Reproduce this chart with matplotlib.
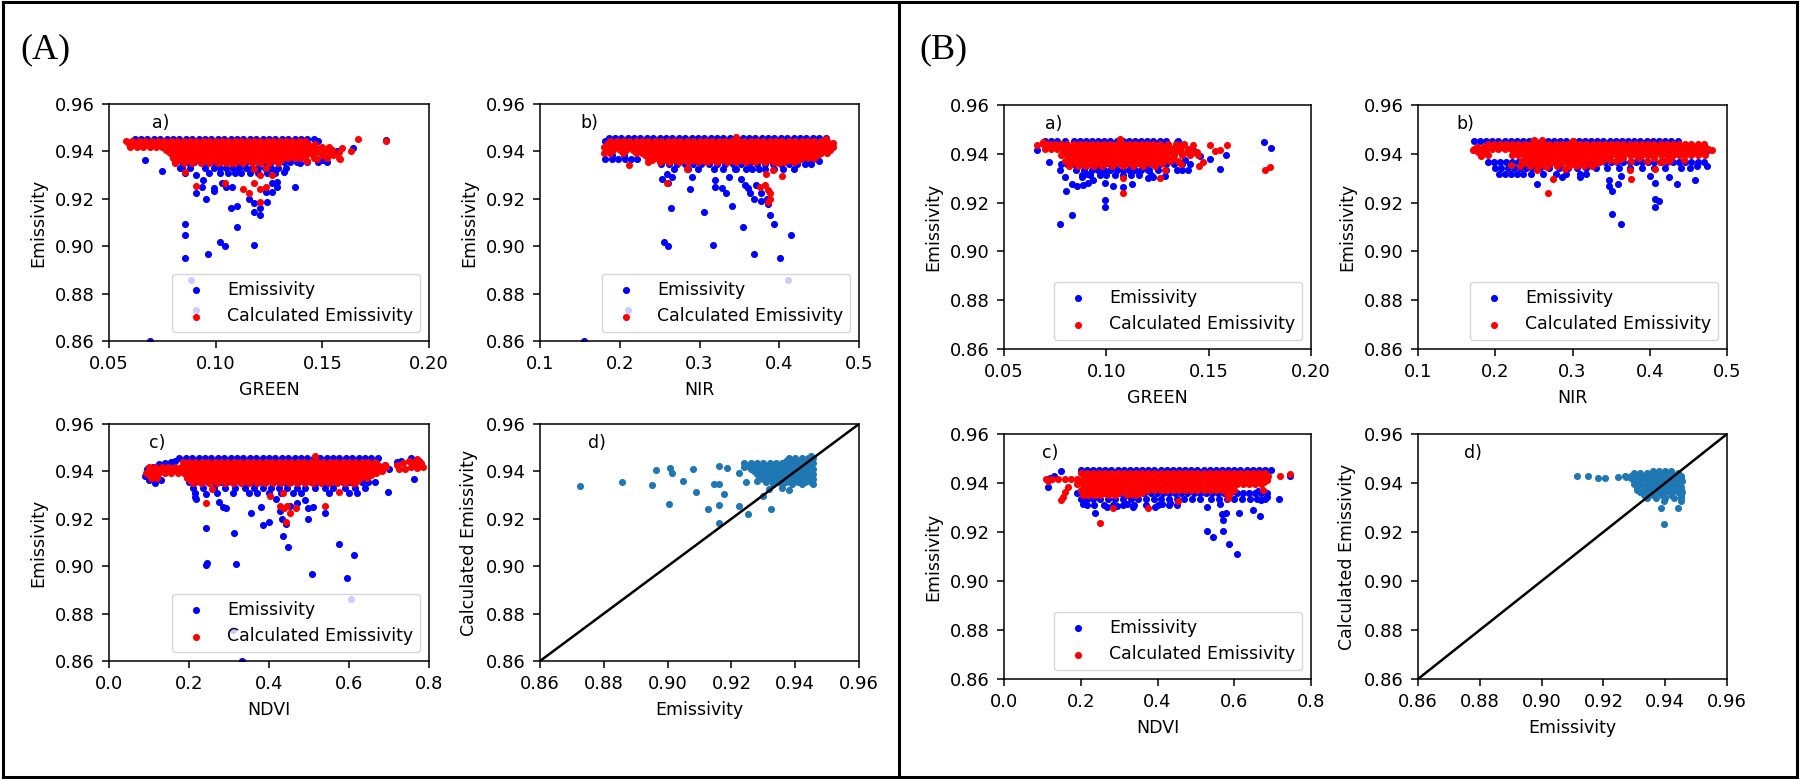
import matplotlib
matplotlib.use("Agg")
import matplotlib.pyplot as plt
from matplotlib.lines import Line2D

W, H = 1800, 779
FS = 12.5          # labels, legend, panel tags
FS_TICK = 13.0
MS = 26            # marker area
EMIS_COLOR = "#0000ff"
CALC_COLOR = "#ff0000"
D_COLOR = "#1f77b4"

Y_TICKS = [0.86, 0.88, 0.90, 0.92, 0.94, 0.96]
GREEN_TICKS = [0.05, 0.10, 0.15, 0.20]
NIR_TICKS = [0.1, 0.2, 0.3, 0.4, 0.5]
NDVI_TICKS = [0.0, 0.2, 0.4, 0.6, 0.8]
D_TICKS = [0.86, 0.88, 0.90, 0.92, 0.94, 0.96]

# ---- (A) a) GREEN ----
# dense clouds are stored as rows: (emissivity, [band values...])
A_GREEN_EMIS_ROWS = [
    (0.9452, [0.062, 0.065, 0.068, 0.071, 0.074, 0.077, 0.080, 0.083, 0.086, 0.089, 0.092, 0.095, 0.098, 0.101,
              0.104, 0.107, 0.110, 0.113, 0.116, 0.119, 0.122, 0.125, 0.128, 0.131, 0.134, 0.137, 0.140, 0.143, 0.146]),
    (0.9355, [0.081, 0.084, 0.087, 0.090, 0.093, 0.096, 0.099, 0.102, 0.105, 0.108, 0.111, 0.114, 0.117, 0.120,
              0.123, 0.126, 0.129, 0.132, 0.135, 0.138, 0.143, 0.148, 0.152]),
    (0.9330, [0.084, 0.088, 0.095, 0.099, 0.102, 0.105, 0.108, 0.111, 0.114, 0.117, 0.120, 0.123, 0.126, 0.129, 0.133]),
    (0.9310, [0.097, 0.102, 0.106, 0.109, 0.112, 0.116, 0.120, 0.124, 0.128]),
]
A_GREEN_EMIS_PTS = [
    (0.150, 0.9405), (0.154, 0.9395), (0.158, 0.9400), (0.1645, 0.9413), (0.1567, 0.9400), (0.1505, 0.9363),
    (0.1395, 0.9350), (0.148, 0.9444), (0.180, 0.9450), (0.0667, 0.9363), (0.0749, 0.9317), (0.0855, 0.9307),
    (0.0832, 0.9328), (0.091, 0.9300), (0.094, 0.9280), (0.0937, 0.9250), (0.091, 0.9225), (0.0957, 0.9200),
    (0.099, 0.9244), (0.099, 0.9234), (0.0855, 0.9093), (0.0855, 0.9049), (0.0855, 0.8952), (0.0963, 0.8965),
    (0.1021, 0.9017), (0.1046, 0.9001), (0.1099, 0.9082), (0.1073, 0.9162), (0.1099, 0.9170), (0.118, 0.9007),
    (0.118, 0.9145), (0.118, 0.9183), (0.121, 0.9131), (0.1154, 0.9201), (0.1239, 0.9187), (0.121, 0.9160),
    (0.1236, 0.9230), (0.1263, 0.9230), (0.1289, 0.9272), (0.1289, 0.9250), (0.1263, 0.9265), (0.137, 0.9248),
    (0.132, 0.9314), (0.1048, 0.9250), (0.1077, 0.9248), (0.103, 0.9265), (0.0886, 0.8859), (0.091, 0.8730),
    (0.0694, 0.8598),
]
A_GREEN_CALC_ROWS = [
    (0.9443, [0.058, 0.061, 0.064, 0.067, 0.070, 0.073, 0.076, 0.079, 0.082, 0.085, 0.088, 0.091, 0.094, 0.097,
              0.100, 0.103, 0.106, 0.109, 0.112, 0.115, 0.118, 0.121, 0.124, 0.127, 0.130, 0.133, 0.136, 0.139, 0.142]),
    (0.9432, [0.0595, 0.0625, 0.0655, 0.0685, 0.0715, 0.0745, 0.0775, 0.0805, 0.0835, 0.0865, 0.0895, 0.0925,
              0.0955, 0.0985, 0.1015, 0.1045, 0.1075, 0.1105, 0.1135, 0.1165, 0.1195, 0.1225, 0.1255, 0.1285,
              0.1315, 0.1345, 0.1375, 0.1405, 0.1435, 0.1465]),
    (0.9420, [0.060, 0.063, 0.066, 0.069, 0.072, 0.075, 0.078, 0.081, 0.084, 0.087, 0.090, 0.093, 0.096, 0.099,
              0.102, 0.105, 0.108, 0.111, 0.114, 0.117, 0.120, 0.123, 0.126, 0.129, 0.132, 0.135, 0.138, 0.141,
              0.144, 0.147, 0.150, 0.153]),
    (0.9408, [0.0765, 0.0795, 0.0825, 0.0855, 0.0885, 0.0915, 0.0945, 0.0975, 0.1005, 0.1035, 0.1065, 0.1095,
              0.1125, 0.1155, 0.1185, 0.1215, 0.1245, 0.1275, 0.1305, 0.1335, 0.1365, 0.1395, 0.1425, 0.1455,
              0.1485, 0.1515, 0.1545]),
    (0.9396, [0.078, 0.081, 0.084, 0.087, 0.090, 0.093, 0.096, 0.099, 0.102, 0.105, 0.108, 0.111, 0.114, 0.117,
              0.120, 0.123, 0.126, 0.129, 0.132, 0.135, 0.138, 0.141, 0.144, 0.147, 0.150, 0.154, 0.158]),
    (0.9384, [0.0795, 0.0825, 0.0855, 0.0885, 0.0915, 0.0945, 0.0975, 0.1005, 0.1035, 0.1065, 0.1095, 0.1125,
              0.1155, 0.1185, 0.1215, 0.1245, 0.1275, 0.1305, 0.1335, 0.1365, 0.1395, 0.1425, 0.1455, 0.150,
              0.155]),
    (0.9372, [0.080, 0.083, 0.086, 0.089, 0.092, 0.095, 0.098, 0.101, 0.104, 0.107, 0.110, 0.113, 0.116, 0.119,
              0.122, 0.125, 0.128, 0.131, 0.134, 0.137, 0.140, 0.146, 0.152, 0.158]),
    (0.9362, [0.0825, 0.0865, 0.0905, 0.0945, 0.0985, 0.1025, 0.1065, 0.1105, 0.1145, 0.1185, 0.1225, 0.1265,
              0.1305]),
    (0.9352, [0.081, 0.085, 0.089, 0.093, 0.097, 0.101, 0.105, 0.109, 0.113, 0.117, 0.121, 0.125, 0.129]),
]
A_GREEN_CALC_PTS = [
    (0.0855, 0.9314), (0.091, 0.9255), (0.1046, 0.9268), (0.1126, 0.9242), (0.1154, 0.9225), (0.118, 0.9265),
    (0.121, 0.9300), (0.1207, 0.9241), (0.1236, 0.9250), (0.121, 0.9187), (0.1263, 0.9300), (0.118, 0.9324),
    (0.1236, 0.9332), (0.102, 0.9356), (0.107, 0.9352), (0.1426, 0.9360), (0.1473, 0.9366), (0.152, 0.9378),
    (0.1582, 0.9370), (0.1668, 0.9452), (0.1798, 0.9444), (0.159, 0.9413), (0.1634, 0.9400),
]

# ---- (A) b) NIR ----
A_NIR_EMIS_ROWS = [
    (0.9455, [0.186, 0.194, 0.202, 0.210, 0.218, 0.226, 0.234, 0.242, 0.250, 0.258, 0.266, 0.274, 0.282, 0.290,
              0.298, 0.306, 0.314, 0.322, 0.330, 0.338, 0.346, 0.354, 0.362, 0.370, 0.378, 0.386, 0.394, 0.402,
              0.410, 0.418, 0.426, 0.434, 0.442, 0.450, 0.458]),
    (0.9370, [0.182, 0.190, 0.198, 0.206, 0.214, 0.222, 0.250, 0.258, 0.266, 0.274, 0.282, 0.290, 0.298, 0.306,
              0.314, 0.322, 0.330, 0.338, 0.346, 0.354, 0.362, 0.370, 0.378, 0.386, 0.394, 0.402, 0.410, 0.418,
              0.426, 0.434, 0.442]),
    (0.9345, [0.252, 0.262, 0.272, 0.282, 0.292, 0.302, 0.312, 0.322, 0.332, 0.342, 0.352, 0.362, 0.372, 0.382,
              0.392, 0.402, 0.412, 0.422, 0.432, 0.440]),
    (0.9325, [0.268, 0.285, 0.298, 0.318, 0.330, 0.345, 0.358, 0.366, 0.374, 0.382, 0.394, 0.405, 0.418]),
]
A_NIR_EMIS_PTS = [
    (0.182, 0.9445), (0.184, 0.9405), (0.190, 0.9385), (0.205, 0.9385), (0.459, 0.9408), (0.438, 0.9357),
    (0.450, 0.9360), (0.465, 0.9425), (0.2524, 0.9283), (0.2587, 0.9303), (0.265, 0.9293), (0.260, 0.9265),
    (0.2641, 0.9161), (0.2557, 0.9018), (0.260, 0.9001), (0.2883, 0.9241), (0.2912, 0.9293), (0.3055, 0.9145),
    (0.3171, 0.9007), (0.3196, 0.9251), (0.328, 0.9246), (0.319, 0.9280), (0.3338, 0.9225), (0.3372, 0.9293),
    (0.3405, 0.9170), (0.3463, 0.9324), (0.3526, 0.9282), (0.3547, 0.9082), (0.3568, 0.9260), (0.361, 0.9246),
    (0.3631, 0.9225), (0.368, 0.8966), (0.368, 0.9200), (0.3706, 0.9260), (0.3768, 0.9223), (0.3777, 0.9190),
    (0.386, 0.9180), (0.3847, 0.9199), (0.389, 0.9131), (0.3935, 0.9092), (0.4006, 0.8952), (0.4148, 0.9049),
    (0.411, 0.8856), (0.2107, 0.8730), (0.1551, 0.8598),
]
A_NIR_CALC_ROWS = [
    (0.9443, [0.188, 0.196, 0.204, 0.212, 0.220, 0.228, 0.236, 0.244, 0.252, 0.260, 0.268, 0.276, 0.284, 0.292,
              0.300, 0.308, 0.316, 0.324, 0.332, 0.340, 0.348, 0.356, 0.364, 0.372, 0.380, 0.388, 0.396, 0.404,
              0.412, 0.420, 0.428, 0.436, 0.444, 0.452, 0.460]),
    (0.9430, [0.184, 0.192, 0.200, 0.208, 0.216, 0.224, 0.232, 0.240, 0.248, 0.256, 0.264, 0.272, 0.280, 0.288,
              0.296, 0.304, 0.312, 0.320, 0.328, 0.336, 0.344, 0.352, 0.360, 0.368, 0.376, 0.384, 0.392, 0.400,
              0.408, 0.416, 0.424, 0.432, 0.440, 0.448, 0.456, 0.464]),
    (0.9418, [0.180, 0.188, 0.196, 0.204, 0.212, 0.220, 0.228, 0.236, 0.244, 0.252, 0.260, 0.268, 0.276, 0.284,
              0.292, 0.300, 0.308, 0.316, 0.324, 0.332, 0.340, 0.348, 0.356, 0.364, 0.372, 0.380, 0.388, 0.396,
              0.404, 0.412, 0.420, 0.428, 0.436, 0.444, 0.452, 0.460, 0.468]),
    (0.9406, [0.184, 0.192, 0.200, 0.208, 0.216, 0.224, 0.232, 0.240, 0.248, 0.256, 0.264, 0.272, 0.280, 0.288,
              0.296, 0.304, 0.312, 0.320, 0.328, 0.336, 0.344, 0.352, 0.360, 0.368, 0.376, 0.384, 0.392, 0.400,
              0.408, 0.416, 0.424, 0.432, 0.440, 0.448, 0.456, 0.464]),
    (0.9395, [0.180, 0.188, 0.204, 0.220, 0.228, 0.236, 0.244, 0.252, 0.260, 0.268, 0.276, 0.284, 0.292, 0.300,
              0.308, 0.316, 0.324, 0.332, 0.340, 0.348, 0.356, 0.364, 0.372, 0.380, 0.388, 0.396, 0.404, 0.412,
              0.420, 0.428, 0.436, 0.444, 0.452, 0.460]),
    (0.9383, [0.232, 0.240, 0.248, 0.256, 0.264, 0.272, 0.280, 0.288, 0.296, 0.304, 0.312, 0.320, 0.328, 0.336,
              0.344, 0.352, 0.360, 0.368, 0.376, 0.384, 0.392, 0.400, 0.408, 0.416, 0.424, 0.432, 0.440, 0.448]),
    (0.9372, [0.236, 0.244, 0.252, 0.260, 0.268, 0.276, 0.284, 0.292, 0.300, 0.308, 0.316, 0.324, 0.332, 0.340,
              0.348, 0.356, 0.364, 0.372, 0.380, 0.388, 0.396, 0.404, 0.412, 0.420, 0.428, 0.436, 0.444]),
    (0.9363, [0.240, 0.256, 0.268, 0.280, 0.292, 0.304, 0.316, 0.328, 0.340, 0.352, 0.364, 0.376, 0.388, 0.400,
              0.412, 0.424]),
    (0.9355, [0.250, 0.262, 0.274, 0.286, 0.298, 0.310, 0.322, 0.334, 0.346, 0.358, 0.370, 0.382, 0.394, 0.406,
              0.418]),
]
A_NIR_CALC_PTS = [
    (0.346, 0.9462), (0.2119, 0.9342), (0.2357, 0.9356), (0.2595, 0.9266), (0.2837, 0.9324), (0.3296, 0.9368),
    (0.3756, 0.9251), (0.3818, 0.9258), (0.386, 0.9237), (0.389, 0.9223), (0.389, 0.9199), (0.386, 0.9187),
    (0.384, 0.9303), (0.404, 0.9297), (0.3923, 0.9321), (0.4583, 0.9452), (0.4674, 0.9434), (0.400, 0.9350),
]

# ---- (A) c) NDVI ----
A_NDVI_EMIS_ROWS = [
    (0.9455, [0.176, 0.192, 0.208, 0.224, 0.240, 0.256, 0.272, 0.288, 0.304, 0.320, 0.336, 0.352, 0.368, 0.384,
              0.400, 0.416, 0.432, 0.448, 0.464, 0.480, 0.496, 0.512, 0.528, 0.544, 0.560, 0.576, 0.592, 0.608,
              0.624, 0.640, 0.656, 0.672]),
    (0.9355, [0.200, 0.216, 0.232, 0.248, 0.264, 0.280, 0.296, 0.312, 0.328, 0.344, 0.360, 0.376, 0.392, 0.408,
              0.424, 0.440, 0.456, 0.472, 0.488, 0.504, 0.520, 0.536, 0.552, 0.568, 0.584, 0.600, 0.616, 0.632,
              0.648, 0.664]),
    (0.9330, [0.210, 0.235, 0.262, 0.290, 0.315, 0.340, 0.362, 0.385, 0.405, 0.425, 0.445, 0.470, 0.490, 0.515,
              0.540, 0.560, 0.590, 0.615, 0.640]),
    (0.9310, [0.215, 0.270, 0.310, 0.350, 0.370, 0.400, 0.430, 0.460, 0.480, 0.550, 0.600, 0.620]),
]
A_NDVI_EMIS_PTS = [
    (0.095, 0.9410), (0.110, 0.9420), (0.125, 0.9430), (0.140, 0.9435), (0.155, 0.9440), (0.165, 0.9445),
    (0.100, 0.9365), (0.115, 0.9350), (0.130, 0.9365), (0.090, 0.9380), (0.690, 0.9425), (0.700, 0.9410),
    (0.6982, 0.9314), (0.7624, 0.9366), (0.730, 0.9445), (0.755, 0.9455), (0.775, 0.9445), (0.720, 0.9440),
    (0.2436, 0.9303), (0.2144, 0.9290), (0.2186, 0.9282), (0.2436, 0.9163), (0.242, 0.9007), (0.246, 0.9014),
    (0.2753, 0.9272), (0.2853, 0.9248), (0.2936, 0.9244), (0.3128, 0.9142), (0.3187, 0.9008), (0.3562, 0.9223),
    (0.3812, 0.9248), (0.3854, 0.9173), (0.4004, 0.9185), (0.4171, 0.9282), (0.4271, 0.9232), (0.4329, 0.9200),
    (0.4421, 0.9180), (0.4355, 0.9127), (0.4463, 0.9082), (0.4521, 0.9254), (0.4705, 0.9265), (0.4897, 0.9279),
    (0.498, 0.9244), (0.498, 0.9201), (0.5105, 0.9251), (0.5063, 0.8965), (0.5397, 0.9225), (0.5755, 0.9092),
    (0.5939, 0.8952), (0.6131, 0.9049), (0.604, 0.8861), (0.3103, 0.8730), (0.3337, 0.8598),
]
A_NDVI_CALC_ROWS = [
    (0.9440, [0.184, 0.200, 0.216, 0.232, 0.248, 0.264, 0.280, 0.296, 0.312, 0.328, 0.344, 0.360, 0.376, 0.392,
              0.408, 0.424, 0.440, 0.456, 0.472, 0.488, 0.504, 0.520, 0.536, 0.552, 0.568, 0.584, 0.600, 0.616,
              0.632, 0.648, 0.664]),
    (0.9429, [0.192, 0.208, 0.224, 0.240, 0.256, 0.272, 0.288, 0.304, 0.320, 0.336, 0.352, 0.368, 0.384, 0.400,
              0.416, 0.432, 0.448, 0.464, 0.480, 0.496, 0.512, 0.528, 0.544, 0.560, 0.576, 0.592, 0.608, 0.624,
              0.640, 0.656, 0.672]),
    (0.9418, [0.100, 0.116, 0.132, 0.148, 0.164, 0.180, 0.196, 0.212, 0.228, 0.244, 0.260, 0.276, 0.292, 0.308,
              0.324, 0.340, 0.356, 0.372, 0.388, 0.404, 0.420, 0.436, 0.452, 0.468, 0.484, 0.500, 0.516, 0.532,
              0.548, 0.564, 0.580, 0.596, 0.612, 0.628, 0.644, 0.660, 0.676, 0.692]),
    (0.9406, [0.104, 0.120, 0.136, 0.152, 0.168, 0.184, 0.200, 0.216, 0.232, 0.248, 0.264, 0.280, 0.296, 0.312,
              0.328, 0.344, 0.360, 0.376, 0.392, 0.408, 0.424, 0.440, 0.456, 0.472, 0.488, 0.504, 0.520, 0.536,
              0.552, 0.568, 0.584, 0.600, 0.616, 0.632, 0.648, 0.664, 0.680]),
    (0.9395, [0.092, 0.108, 0.124, 0.140, 0.156, 0.172, 0.188, 0.204, 0.220, 0.236, 0.252, 0.268, 0.284, 0.300,
              0.316, 0.332, 0.348, 0.364, 0.380, 0.396, 0.412, 0.428, 0.444, 0.460, 0.476, 0.492, 0.508, 0.524,
              0.540, 0.556, 0.572, 0.588, 0.604, 0.620, 0.636, 0.652, 0.668]),
    (0.9383, [0.100, 0.116, 0.192, 0.208, 0.224, 0.240, 0.256, 0.272, 0.288, 0.304, 0.320, 0.336, 0.352, 0.368,
              0.384, 0.400, 0.416, 0.432, 0.448, 0.464, 0.480, 0.496, 0.512, 0.528, 0.544, 0.560, 0.576, 0.592,
              0.608, 0.624, 0.640, 0.656]),
    (0.9372, [0.104, 0.120, 0.196, 0.212, 0.228, 0.244, 0.260, 0.276, 0.292, 0.308, 0.324, 0.340, 0.356, 0.372,
              0.388, 0.404, 0.420, 0.436, 0.452, 0.468, 0.484, 0.500, 0.516, 0.532, 0.548, 0.564, 0.580, 0.596,
              0.612, 0.628, 0.644]),
    (0.9362, [0.202, 0.222, 0.242, 0.262, 0.282, 0.302, 0.322, 0.342, 0.362, 0.382, 0.402, 0.422, 0.442, 0.462,
              0.482, 0.502, 0.522, 0.542, 0.562, 0.582, 0.602, 0.622]),
    (0.9352, [0.210, 0.230, 0.250, 0.270, 0.290, 0.310, 0.330, 0.350, 0.370, 0.390, 0.410, 0.430, 0.450, 0.470,
              0.490, 0.510, 0.530, 0.550, 0.570, 0.590, 0.610]),
]
A_NDVI_CALC_PTS = [
    (0.720, 0.9425), (0.735, 0.9435), (0.750, 0.9445), (0.765, 0.9440), (0.780, 0.9435), (0.785, 0.9420),
    (0.770, 0.9415), (0.755, 0.9420), (0.740, 0.9410), (0.725, 0.9410), (0.770, 0.9452), (0.760, 0.9435),
    (0.5147, 0.9465), (0.242, 0.9265), (0.2586, 0.9324), (0.4021, 0.9297), (0.4338, 0.9307), (0.4271, 0.9254),
    (0.4371, 0.9244), (0.4438, 0.9254), (0.4521, 0.9223), (0.4671, 0.9244), (0.4421, 0.9185), (0.5397, 0.9254),
    (0.5755, 0.9314), (0.6148, 0.9350), (0.6815, 0.9403), (0.690, 0.9425),
]

# ---- (A) d) Emissivity vs Calculated Emissivity ----
A_D_ROWS = [
    (0.9455, [0.938, 0.940, 0.942, 0.944, 0.9455]),
    (0.9445, [0.937, 0.939, 0.941, 0.943, 0.945]),
    (0.9435, [0.924, 0.926, 0.928, 0.930, 0.932, 0.934, 0.936, 0.938, 0.940, 0.942, 0.944, 0.9455]),
    (0.9424, [0.925, 0.927, 0.929, 0.931, 0.933, 0.935, 0.937, 0.939, 0.941, 0.943, 0.945]),
    (0.9412, [0.926, 0.928, 0.930, 0.932, 0.934, 0.936, 0.938, 0.940, 0.942, 0.944, 0.9455]),
    (0.9401, [0.927, 0.929, 0.931, 0.933, 0.935, 0.937, 0.939, 0.941, 0.943, 0.945]),
    (0.9390, [0.928, 0.930, 0.932, 0.934, 0.936, 0.938, 0.940, 0.942, 0.944, 0.9455]),
    (0.9378, [0.929, 0.931, 0.933, 0.935, 0.937, 0.939, 0.941, 0.943, 0.945]),
    (0.9367, [0.930, 0.932, 0.934, 0.936, 0.938, 0.940, 0.942, 0.944, 0.9455]),
    (0.9357, [0.931, 0.933, 0.935, 0.937, 0.939, 0.941, 0.943, 0.945]),
    (0.9347, [0.933, 0.936, 0.939, 0.942, 0.9455]),
]
A_D_PTS = [
    (0.8726, 0.9337), (0.8857, 0.9354), (0.8964, 0.9408), (0.895, 0.9344), (0.9008, 0.9415), (0.9013, 0.9392),
    (0.9004, 0.9263), (0.9049, 0.9358), (0.9079, 0.9410), (0.909, 0.9312), (0.9144, 0.9347), (0.916, 0.9347),
    (0.9126, 0.9242), (0.9162, 0.9259), (0.9162, 0.9181), (0.9178, 0.9306), (0.916, 0.9424), (0.9187, 0.9414),
    (0.9225, 0.9253), (0.9252, 0.9221), (0.9246, 0.9354), (0.930, 0.9295), (0.9323, 0.9242), (0.9318, 0.9326),
    (0.9225, 0.9395), (0.924, 0.9420), (0.928, 0.9360), (0.936, 0.9330), (0.938, 0.9320), (0.945, 0.9465),
]

# ---- (B) a) GREEN ----
B_GREEN_EMIS_ROWS = [
    (0.9452, [0.070, 0.073, 0.076, 0.080, 0.084, 0.087, 0.090, 0.093, 0.096, 0.099, 0.102, 0.105, 0.108, 0.111,
              0.114, 0.117, 0.120, 0.123, 0.126, 0.129, 0.135]),
    (0.9360, [0.078, 0.081, 0.084, 0.087, 0.090, 0.093, 0.096, 0.099, 0.102, 0.105, 0.108, 0.111, 0.114, 0.117,
              0.120, 0.123, 0.126, 0.129, 0.133, 0.137, 0.141]),
    (0.9335, [0.085, 0.089, 0.093, 0.096, 0.099, 0.102, 0.105, 0.108, 0.111, 0.114, 0.117, 0.121, 0.125, 0.129]),
    (0.9315, [0.088, 0.092, 0.097, 0.100, 0.104, 0.108, 0.112, 0.116, 0.122]),
]
B_GREEN_EMIS_PTS = [
    (0.0663, 0.9414), (0.072, 0.9366), (0.0774, 0.9335), (0.0798, 0.9305), (0.0803, 0.9246), (0.0774, 0.9114),
    (0.0831, 0.9151), (0.0831, 0.9278), (0.0858, 0.9268), (0.0888, 0.9273), (0.0912, 0.9280), (0.0936, 0.9294),
    (0.0879, 0.9305), (0.0904, 0.9319), (0.0993, 0.9280), (0.0993, 0.9209), (0.0993, 0.9182), (0.1034, 0.9267),
    (0.1083, 0.9264), (0.1124, 0.9278), (0.1202, 0.9302), (0.123, 0.9305), (0.1205, 0.9332), (0.1287, 0.9308),
    (0.1344, 0.9335), (0.1368, 0.9332), (0.1401, 0.9335), (0.1556, 0.9339), (0.1344, 0.9448), (0.1425, 0.9414),
    (0.1458, 0.9390), (0.1507, 0.9380), (0.1585, 0.9394), (0.1384, 0.9373), (0.1772, 0.9448), (0.1805, 0.9425),
]
B_GREEN_CALC_ROWS = [
    (0.9440, [0.069, 0.072, 0.075, 0.078, 0.081, 0.084, 0.087, 0.090, 0.093, 0.096, 0.099, 0.102, 0.105, 0.108,
              0.111, 0.114, 0.117, 0.120, 0.123, 0.126, 0.130, 0.134, 0.138]),
    (0.9429, [0.0705, 0.0735, 0.0765, 0.0795, 0.0825, 0.0855, 0.0885, 0.0915, 0.0945, 0.0975, 0.1005, 0.1035,
              0.1065, 0.1095, 0.1125, 0.1155, 0.1185, 0.1215, 0.1245, 0.1275, 0.1305, 0.1335, 0.1365]),
    (0.9418, [0.070, 0.073, 0.076, 0.079, 0.082, 0.085, 0.088, 0.091, 0.094, 0.097, 0.100, 0.103, 0.106, 0.109,
              0.112, 0.115, 0.118, 0.121, 0.124, 0.127, 0.130, 0.133, 0.136, 0.140]),
    (0.9406, [0.0795, 0.0825, 0.0855, 0.0885, 0.0915, 0.0945, 0.0975, 0.1005, 0.1035, 0.1065, 0.1095, 0.1125,
              0.1155, 0.1185, 0.1215, 0.1245, 0.1275, 0.1305, 0.1335, 0.1365, 0.1395, 0.1425]),
    (0.9395, [0.078, 0.081, 0.084, 0.087, 0.090, 0.093, 0.096, 0.099, 0.102, 0.105, 0.108, 0.111, 0.114, 0.117,
              0.120, 0.123, 0.126, 0.129, 0.133, 0.137, 0.141, 0.145]),
    (0.9383, [0.0815, 0.0845, 0.0875, 0.0905, 0.0935, 0.0965, 0.0995, 0.1025, 0.1055, 0.1085, 0.1115, 0.1145,
              0.1175, 0.1205, 0.1235, 0.1265, 0.1295, 0.1325]),
    (0.9372, [0.080, 0.083, 0.086, 0.089, 0.092, 0.095, 0.098, 0.101, 0.104, 0.107, 0.110, 0.113, 0.116, 0.119,
              0.122, 0.125, 0.128, 0.131, 0.135]),
    (0.9362, [0.084, 0.088, 0.092, 0.096, 0.100, 0.1055, 0.1105, 0.1155, 0.121, 0.127]),
    (0.9352, [0.082, 0.086, 0.090, 0.094, 0.098, 0.103, 0.108, 0.113, 0.118, 0.124]),
]
B_GREEN_CALC_PTS = [
    (0.0663, 0.9435), (0.0692, 0.9448), (0.1067, 0.9459), (0.1083, 0.9301), (0.1083, 0.9241), (0.1262, 0.9301),
    (0.1287, 0.9335), (0.1363, 0.9357), (0.1455, 0.9349), (0.1474, 0.9366), (0.1588, 0.9435), (0.1556, 0.9414),
    (0.1507, 0.9435), (0.1425, 0.9435), (0.1368, 0.9435), (0.1441, 0.9407), (0.1531, 0.9410), (0.1775, 0.9335),
    (0.180, 0.9346),
]

# ---- (B) b) NIR ----
B_NIR_EMIS_ROWS = [
    (0.9452, [0.172, 0.180, 0.188, 0.196, 0.204, 0.212, 0.220, 0.228, 0.236, 0.244, 0.252, 0.260, 0.268, 0.276,
              0.284, 0.292, 0.300, 0.308, 0.316, 0.324, 0.332, 0.340, 0.348, 0.356, 0.364, 0.372, 0.380, 0.388,
              0.396, 0.404, 0.412, 0.420, 0.428, 0.436]),
    (0.9365, [0.190, 0.198, 0.206, 0.214, 0.222, 0.230, 0.238, 0.246, 0.254, 0.262, 0.270, 0.278, 0.286, 0.294,
              0.302, 0.310, 0.318, 0.326, 0.334, 0.342, 0.350, 0.358, 0.366, 0.374, 0.382, 0.390, 0.398, 0.406,
              0.414, 0.422, 0.430, 0.438, 0.446, 0.454, 0.462, 0.470]),
    (0.9340, [0.200, 0.208, 0.216, 0.224, 0.232, 0.240, 0.248, 0.258, 0.270, 0.282, 0.294, 0.306, 0.318, 0.330,
              0.345, 0.360, 0.375, 0.390, 0.405, 0.420, 0.440, 0.452]),
    (0.9318, [0.205, 0.212, 0.220, 0.228, 0.236, 0.246, 0.262, 0.278, 0.292, 0.310, 0.318]),
]
B_NIR_EMIS_PTS = [
    (0.445, 0.9430), (0.455, 0.9430), (0.465, 0.9425), (0.475, 0.9415), (0.2535, 0.9278), (0.286, 0.9305),
    (0.3097, 0.9305), (0.3478, 0.9291), (0.3478, 0.9267), (0.3508, 0.9248), (0.3508, 0.9152), (0.3625, 0.9114),
    (0.3595, 0.9278), (0.3625, 0.9309), (0.4005, 0.9309), (0.407, 0.9280), (0.407, 0.9213), (0.407, 0.9182),
    (0.4126, 0.9207), (0.4243, 0.9305), (0.4351, 0.9275), (0.458, 0.9294), (0.461, 0.9349), (0.474, 0.9350),
    (0.472, 0.9414),
]
B_NIR_CALC_ROWS = [
    (0.9440, [0.190, 0.198, 0.206, 0.214, 0.222, 0.230, 0.238, 0.246, 0.254, 0.262, 0.270, 0.278, 0.286, 0.294,
              0.302, 0.310, 0.318, 0.326, 0.334, 0.342, 0.350, 0.358, 0.366, 0.374, 0.382, 0.390, 0.398, 0.406,
              0.414, 0.422, 0.430, 0.438, 0.446, 0.454, 0.462, 0.470]),
    (0.9429, [0.176, 0.184, 0.192, 0.200, 0.208, 0.216, 0.224, 0.232, 0.240, 0.248, 0.256, 0.264, 0.272, 0.280,
              0.288, 0.296, 0.304, 0.312, 0.320, 0.328, 0.336, 0.344, 0.352, 0.360, 0.368, 0.376, 0.384, 0.392,
              0.400, 0.408, 0.416, 0.424, 0.432, 0.440, 0.448, 0.456, 0.464, 0.472]),
    (0.9418, [0.172, 0.180, 0.188, 0.196, 0.204, 0.212, 0.220, 0.228, 0.236, 0.244, 0.252, 0.260, 0.268, 0.276,
              0.284, 0.292, 0.300, 0.308, 0.316, 0.324, 0.332, 0.340, 0.348, 0.356, 0.364, 0.372, 0.380, 0.388,
              0.396, 0.404, 0.412, 0.420, 0.428, 0.436, 0.444, 0.452, 0.460, 0.468, 0.476]),
    (0.9406, [0.178, 0.186, 0.226, 0.234, 0.242, 0.250, 0.258, 0.266, 0.274, 0.282, 0.290, 0.298, 0.306, 0.314,
              0.322, 0.330, 0.338, 0.346, 0.354, 0.362, 0.370, 0.378, 0.386, 0.394, 0.402, 0.410, 0.418, 0.426,
              0.434, 0.442, 0.450, 0.458, 0.466]),
    (0.9395, [0.182, 0.190, 0.222, 0.230, 0.238, 0.246, 0.254, 0.262, 0.270, 0.278, 0.286, 0.294, 0.302, 0.310,
              0.318, 0.326, 0.334, 0.342, 0.350, 0.358, 0.366, 0.374, 0.382, 0.390, 0.398, 0.406, 0.414, 0.422,
              0.430, 0.438, 0.446, 0.454, 0.462, 0.472]),
    (0.9383, [0.238, 0.246, 0.254, 0.262, 0.270, 0.278, 0.286, 0.294, 0.302, 0.310, 0.318, 0.326, 0.334, 0.346,
              0.366, 0.386, 0.406, 0.428]),
    (0.9372, [0.234, 0.242, 0.250, 0.258, 0.266, 0.274, 0.282, 0.290, 0.298, 0.306, 0.314, 0.322, 0.330, 0.338,
              0.356, 0.376, 0.396, 0.418]),
    (0.9361, [0.240, 0.250, 0.260, 0.272, 0.287, 0.300, 0.310, 0.320, 0.332]),
    (0.9350, [0.245, 0.255, 0.265, 0.280, 0.295, 0.305, 0.315, 0.325]),
]
B_NIR_CALC_PTS = [
    (0.250, 0.9455), (0.260, 0.9458), (0.300, 0.9452), (0.1714, 0.9414), (0.1822, 0.9390), (0.2198, 0.9353),
    (0.2319, 0.9349), (0.2686, 0.9239), (0.2743, 0.9298), (0.2903, 0.9339), (0.2535, 0.9335), (0.2665, 0.9346),
    (0.3746, 0.9332), (0.3759, 0.9298), (0.407, 0.9339), (0.4135, 0.9366), (0.4243, 0.9370), (0.4438, 0.9373),
    (0.4805, 0.9414), (0.3486, 0.9373), (0.3616, 0.9380),
]

# ---- (B) c) NDVI ----
B_NDVI_EMIS_ROWS = [
    (0.9452, [0.200, 0.216, 0.232, 0.248, 0.264, 0.280, 0.296, 0.312, 0.328, 0.344, 0.360, 0.376, 0.392, 0.408,
              0.424, 0.440, 0.456, 0.472, 0.488, 0.504, 0.520, 0.536, 0.552, 0.568, 0.584, 0.600, 0.616, 0.632,
              0.648, 0.664, 0.680, 0.696]),
    (0.9360, [0.190, 0.206, 0.222, 0.238, 0.254, 0.270, 0.286, 0.302, 0.318, 0.334, 0.350, 0.366, 0.382, 0.398,
              0.414, 0.430, 0.446, 0.462, 0.478, 0.494, 0.510, 0.526, 0.542, 0.558, 0.574, 0.590, 0.606, 0.622,
              0.638, 0.654, 0.670, 0.686]),
    (0.9335, [0.200, 0.216, 0.232, 0.250, 0.270, 0.290, 0.310, 0.330, 0.350, 0.370, 0.390, 0.410, 0.430, 0.450,
              0.470, 0.490, 0.510, 0.540, 0.560, 0.580, 0.600, 0.620, 0.640, 0.660, 0.680]),
    (0.9312, [0.215, 0.235, 0.260, 0.285, 0.310, 0.340, 0.370, 0.400, 0.430, 0.450]),
]
B_NDVI_EMIS_PTS = [
    (0.148, 0.9449), (0.120, 0.9420), (0.130, 0.9430), (0.1155, 0.9384), (0.2372, 0.9277), (0.2068, 0.9315),
    (0.2676, 0.9301), (0.2937, 0.9308), (0.3197, 0.9315), (0.3371, 0.9304), (0.3936, 0.9301), (0.411, 0.9315),
    (0.4327, 0.9318), (0.5282, 0.9304), (0.5282, 0.9203), (0.5439, 0.9178), (0.5699, 0.9203), (0.5717, 0.9249),
    (0.5691, 0.9274), (0.5778, 0.9277), (0.563, 0.9315), (0.5873, 0.9151), (0.6064, 0.9110), (0.6134, 0.9277),
    (0.6499, 0.9290), (0.6672, 0.9267), (0.7168, 0.9336), (0.669, 0.9329), (0.6846, 0.9342), (0.7454, 0.9427),
    (0.6629, 0.9367),
]
B_NDVI_CALC_ROWS = [
    (0.9440, [0.200, 0.216, 0.232, 0.248, 0.264, 0.280, 0.296, 0.312, 0.328, 0.344, 0.360, 0.376, 0.392, 0.408,
              0.424, 0.440, 0.456, 0.472, 0.488, 0.504, 0.520, 0.536, 0.552, 0.568, 0.584, 0.600, 0.616, 0.632,
              0.648, 0.664, 0.680]),
    (0.9429, [0.208, 0.224, 0.240, 0.256, 0.272, 0.288, 0.304, 0.320, 0.336, 0.352, 0.368, 0.384, 0.400, 0.416,
              0.432, 0.448, 0.464, 0.480, 0.496, 0.512, 0.528, 0.544, 0.560, 0.576, 0.592, 0.608, 0.624, 0.640,
              0.656, 0.672, 0.688]),
    (0.9418, [0.110, 0.126, 0.142, 0.158, 0.174, 0.190, 0.206, 0.222, 0.238, 0.254, 0.270, 0.286, 0.302, 0.318,
              0.334, 0.350, 0.366, 0.382, 0.398, 0.414, 0.430, 0.446, 0.462, 0.478, 0.494, 0.510, 0.526, 0.542,
              0.558, 0.574, 0.590, 0.606, 0.622, 0.638, 0.654, 0.670, 0.686]),
    (0.9406, [0.198, 0.214, 0.230, 0.246, 0.262, 0.278, 0.294, 0.310, 0.326, 0.342, 0.358, 0.374, 0.390, 0.406,
              0.422, 0.438, 0.454, 0.470, 0.486, 0.502, 0.518, 0.534, 0.550, 0.566, 0.582, 0.598, 0.614, 0.630,
              0.646, 0.662, 0.678]),
    (0.9395, [0.190, 0.206, 0.222, 0.238, 0.254, 0.270, 0.286, 0.302, 0.318, 0.334, 0.350, 0.366, 0.382, 0.398,
              0.414, 0.430, 0.446, 0.462, 0.478, 0.494, 0.510, 0.526, 0.542, 0.558, 0.574, 0.590, 0.606, 0.622,
              0.638, 0.654, 0.670]),
    (0.9383, [0.208, 0.224, 0.240, 0.256, 0.272, 0.288, 0.304, 0.320, 0.336, 0.352, 0.368, 0.384, 0.400, 0.416,
              0.432, 0.448, 0.464, 0.480, 0.496, 0.512, 0.528, 0.544, 0.560, 0.576, 0.592]),
    (0.9372, [0.200, 0.216, 0.232, 0.248, 0.264, 0.280, 0.296, 0.312, 0.328, 0.344, 0.360, 0.376, 0.392, 0.408,
              0.424, 0.440, 0.456, 0.472, 0.488, 0.504, 0.520, 0.536, 0.552, 0.568, 0.584, 0.600]),
    (0.9361, [0.212, 0.228, 0.243, 0.260, 0.280, 0.300, 0.330, 0.360, 0.580, 0.590]),
    (0.9350, [0.205, 0.220, 0.235, 0.250, 0.270, 0.290, 0.320, 0.345]),
]
B_NDVI_CALC_PTS = [
    (0.1477, 0.9331), (0.1529, 0.9342), (0.159, 0.9363), (0.1677, 0.9384), (0.1155, 0.9408), (0.2502, 0.9236),
    (0.285, 0.9299), (0.3762, 0.9299), (0.4544, 0.9326), (0.3328, 0.9356), (0.4153, 0.9370), (0.5847, 0.9340),
    (0.5891, 0.9363), (0.6759, 0.9370), (0.7194, 0.9427), (0.7454, 0.9436), (0.6846, 0.9411),
]

# ---- (B) d) Emissivity vs Calculated Emissivity ----
B_D_ROWS = [
    (0.9450, [0.936, 0.938, 0.940, 0.942]),
    (0.9440, [0.930, 0.932, 0.934, 0.936, 0.938, 0.940, 0.942, 0.944]),
    (0.9430, [0.927, 0.929, 0.931, 0.933, 0.935, 0.937, 0.939, 0.941, 0.943, 0.945]),
    (0.9419, [0.929, 0.931, 0.933, 0.935, 0.937, 0.939, 0.941, 0.943, 0.945]),
    (0.9408, [0.930, 0.932, 0.934, 0.936, 0.938, 0.940, 0.942, 0.944, 0.9455]),
    (0.9396, [0.930, 0.932, 0.934, 0.936, 0.938, 0.940, 0.942, 0.944]),
    (0.9385, [0.931, 0.933, 0.935, 0.937, 0.939, 0.941, 0.943, 0.945]),
    (0.9373, [0.931, 0.933, 0.935, 0.937, 0.939, 0.941, 0.943, 0.945]),
    (0.9362, [0.932, 0.934, 0.936, 0.938, 0.940, 0.942, 0.944, 0.9455]),
    (0.9351, [0.933, 0.936, 0.939, 0.942, 0.945]),
    (0.9340, [0.934, 0.937, 0.940, 0.943, 0.945]),
]
B_D_PTS = [
    (0.9116, 0.9429), (0.915, 0.9429), (0.9181, 0.9419), (0.9205, 0.9419), (0.9246, 0.9425), (0.9274, 0.9425),
    (0.9386, 0.9297), (0.9442, 0.9297), (0.9395, 0.9234), (0.9395, 0.9325), (0.945, 0.9325),
]


def unpack(rows, pts):
    xs, ys = [], []
    for y, row in rows:
        for x in row:
            xs.append(x)
            ys.append(y)
    for x, y in pts:
        xs.append(x)
        ys.append(y)
    return xs, ys


def px_axes(fig, left, top, right, bottom):
    """Axes placed by pixel box of the 1800x779 canvas."""
    return fig.add_axes([left / W, 1 - bottom / H, (right - left) / W, (bottom - top) / H])


def style_y(ax, ylabel):
    ax.set_ylim(0.86, 0.96)
    ax.set_yticks(Y_TICKS)
    ax.set_yticklabels(["{:.2f}".format(v) for v in Y_TICKS])
    ax.set_ylabel(ylabel)


def band_panel(ax, xlim, xticks, fmt, xlabel, tag, tag_x, emis, calc):
    bx, by = unpack(*emis)
    rx, ry = unpack(*calc)
    ax.scatter(bx, by, s=MS, c=EMIS_COLOR, linewidths=0, label="Emissivity")
    ax.scatter(rx, ry, s=MS, c=CALC_COLOR, linewidths=0, label="Calculated Emissivity")
    ax.set_xlim(xlim)
    ax.set_xticks(xticks)
    ax.set_xticklabels([fmt.format(v) for v in xticks])
    ax.set_xlabel(xlabel)
    style_y(ax, "Emissivity")
    ax.text(tag_x, 0.95, tag)
    ax.legend(loc="lower right")


def one_to_one_panel(ax, rows, pts):
    x, y = unpack(rows, pts)
    ax.scatter(x, y, s=MS, c=D_COLOR, linewidths=0)
    ax.plot([0.86, 0.96], [0.86, 0.96], color="black", lw=1.8)
    ax.set_xlim(0.86, 0.96)
    ax.set_xticks(D_TICKS)
    ax.set_xticklabels(["{:.2f}".format(v) for v in D_TICKS])
    ax.set_xlabel("Emissivity")
    style_y(ax, "Calculated Emissivity")
    ax.text(0.875, 0.95, "d)")


plt.rcParams.update({
    "font.family": "DejaVu Sans",
    "font.size": FS,
    "legend.fontsize": FS,
    "xtick.labelsize": FS_TICK,
    "ytick.labelsize": FS_TICK,
    "axes.linewidth": 1.1,
    "xtick.major.size": 5,
    "ytick.major.size": 5,
    "xtick.major.width": 1.1,
    "ytick.major.width": 1.1,
    "xtick.major.pad": 5,
    "ytick.major.pad": 5,
    "axes.labelpad": 5.7,
})

fig = plt.figure(figsize=(W / 100, H / 100), dpi=100)

panels = {
    "A": [(109, 104, 429, 341), (540, 104, 859, 341), (109, 424, 429, 661), (540, 424, 859, 661)],
    "B": [(1004, 105, 1311, 349), (1418, 105, 1727, 349), (1004, 434, 1311, 679), (1418, 434, 1727, 679)],
}
data = {
    "A": [(A_GREEN_EMIS_ROWS, A_GREEN_EMIS_PTS), (A_GREEN_CALC_ROWS, A_GREEN_CALC_PTS),
          (A_NIR_EMIS_ROWS, A_NIR_EMIS_PTS), (A_NIR_CALC_ROWS, A_NIR_CALC_PTS),
          (A_NDVI_EMIS_ROWS, A_NDVI_EMIS_PTS), (A_NDVI_CALC_ROWS, A_NDVI_CALC_PTS),
          (A_D_ROWS, A_D_PTS)],
    "B": [(B_GREEN_EMIS_ROWS, B_GREEN_EMIS_PTS), (B_GREEN_CALC_ROWS, B_GREEN_CALC_PTS),
          (B_NIR_EMIS_ROWS, B_NIR_EMIS_PTS), (B_NIR_CALC_ROWS, B_NIR_CALC_PTS),
          (B_NDVI_EMIS_ROWS, B_NDVI_EMIS_PTS), (B_NDVI_CALC_ROWS, B_NDVI_CALC_PTS),
          (B_D_ROWS, B_D_PTS)],
}

for key in ["A", "B"]:
    boxes = panels[key]
    d = data[key]
    ax = px_axes(fig, *boxes[0])
    band_panel(ax, (0.05, 0.20), GREEN_TICKS, "{:.2f}", "GREEN", "a)", 0.07, d[0], d[1])
    ax = px_axes(fig, *boxes[1])
    band_panel(ax, (0.1, 0.5), NIR_TICKS, "{:.1f}", "NIR", "b)", 0.15, d[2], d[3])
    ax = px_axes(fig, *boxes[2])
    band_panel(ax, (0.0, 0.8), NDVI_TICKS, "{:.1f}", "NDVI", "c)", 0.1, d[4], d[5])
    ax = px_axes(fig, *boxes[3])
    one_to_one_panel(ax, *d[6])

# panel letters
fig.text(20 / W, 1 - 50 / H, "(A)", family="Liberation Serif", fontsize=26, va="center")
fig.text(919 / W, 1 - 50 / H, "(B)", family="Liberation Serif", fontsize=26, va="center")

# black frames round the two halves
frame = dict(color="black", lw=2.2, transform=fig.transFigure, solid_capstyle="projecting")
for xs, ys in [([3, 1797], [2, 2]), ([3, 1797], [777, 777]), ([3, 3], [2, 777]),
               ([1797, 1797], [2, 777]), ([899, 899], [2, 777])]:
    fig.add_artist(Line2D([x / W for x in xs], [1 - y / H for y in ys], **frame))

fig.savefig("out.png", dpi=100)
